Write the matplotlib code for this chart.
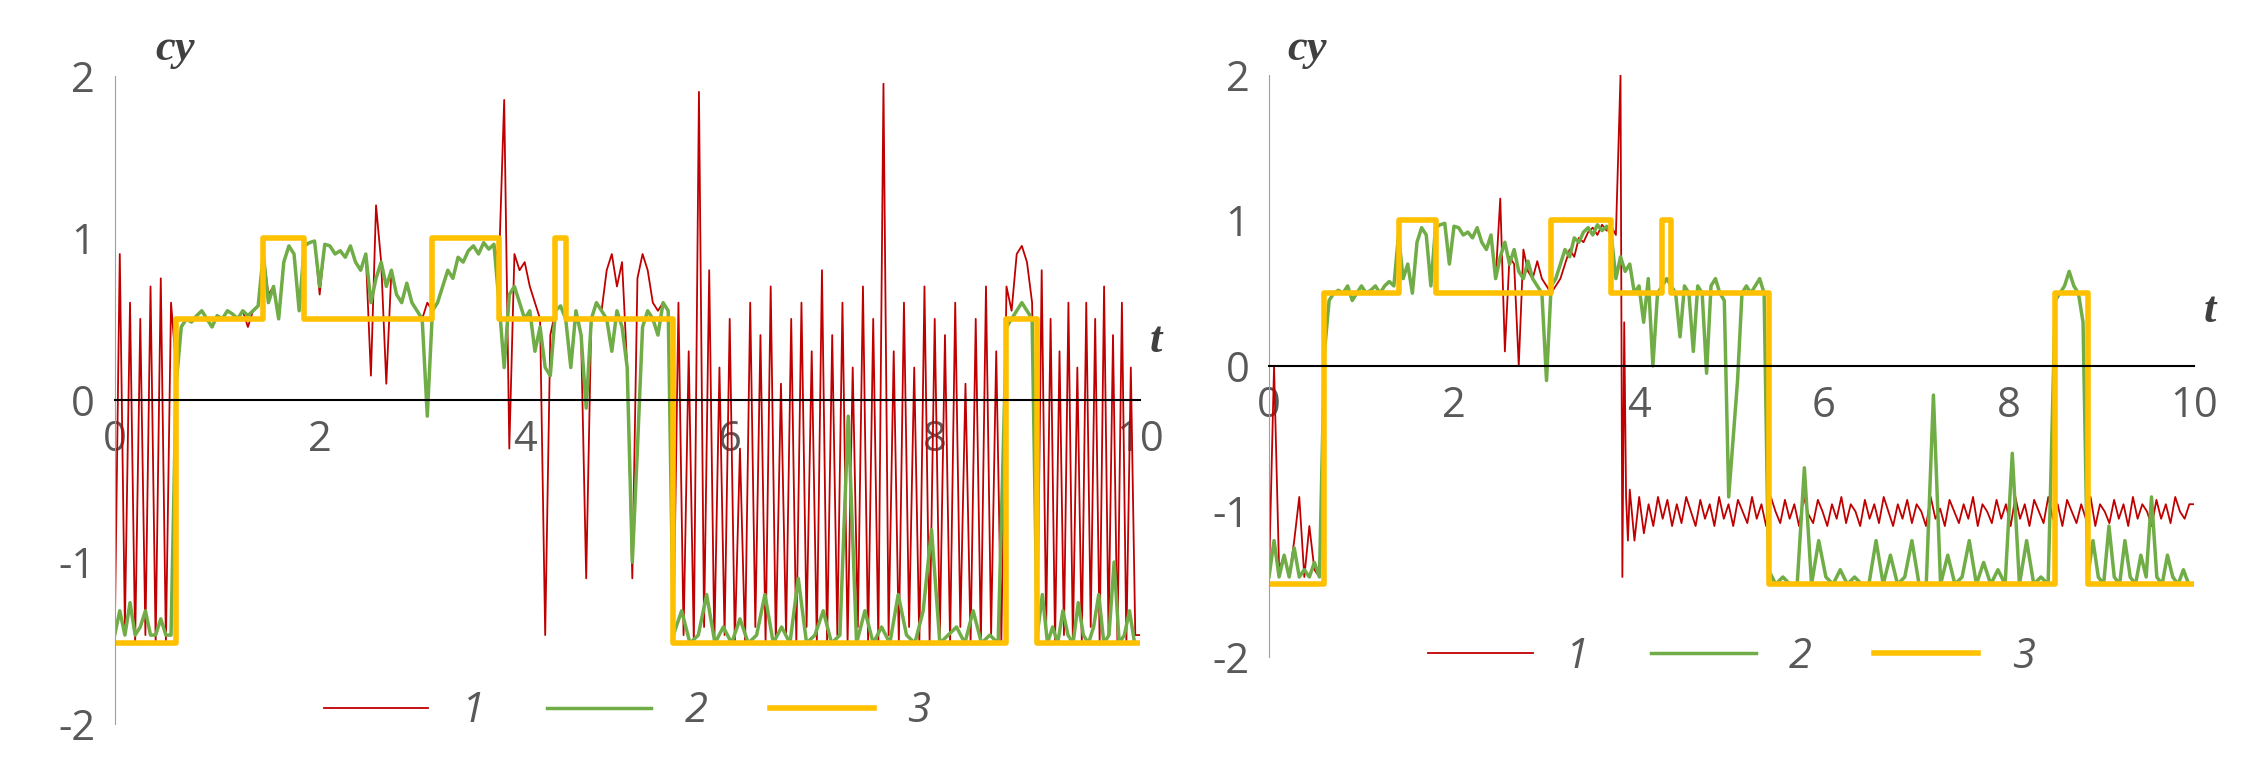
import numpy as np
import matplotlib
matplotlib.use('Agg')
import matplotlib.pyplot as plt

plt.rcParams['axes.unicode_minus'] = False

# ---------- left panel data ----------
# step signal (3): breakpoints and levels
left_step_t = [0, 0.6, 1.45, 1.85, 3.1, 3.75, 4.3, 4.4, 5.45, 8.7, 9.0, 10]
left_step_y = [-1.5, 0.5, 1.0, 0.5, 1.0, 0.5, 1.0, 0.5, -1.5, 0.5, -1.5, -1.5]

# series 2 (green), per segment
left_green_edges = [0, 0.6, 1.45, 1.85, 3.1, 3.75, 4.3, 5.45, 8.7, 9.0, 10]
left_green_vals = [
    [-1.45, -1.3, -1.45, -1.25, -1.45, -1.4, -1.3, -1.45, -1.45, -1.35, -1.45, -1.45],
    [0.1, 0.45, 0.5, 0.48, 0.52, 0.55, 0.5, 0.45, 0.52, 0.5, 0.55, 0.53, 0.5, 0.55, 0.52, 0.55, 0.58],
    [0.9, 0.6, 0.7, 0.5, 0.85, 0.95, 0.9, 0.55],
    [0.95, 0.97, 0.98, 0.7, 0.96, 0.95, 0.9, 0.92, 0.88, 0.95, 0.85, 0.8, 0.9, 0.6, 0.75, 0.85,
     0.7, 0.8, 0.65, 0.6, 0.72, 0.6, 0.55, 0.5, -0.1],
    [0.55, 0.6, 0.7, 0.8, 0.75, 0.88, 0.85, 0.92, 0.95, 0.9, 0.97, 0.93, 0.96],
    [0.6, 0.2, 0.65, 0.7, 0.6, 0.5, 0.55, 0.3, 0.45, 0.2, 0.15],
    [0.55, 0.58, 0.5, 0.2, 0.55, 0.4, -0.05, 0.5, 0.6, 0.55, 0.5, 0.3, 0.55, 0.45, 0.2, -1.0,
     -0.3, 0.45, 0.55, 0.5, 0.4, 0.6, 0.55],
    [-1.45, -1.3, -1.5, -1.45, -1.2, -1.5, -1.4, -1.5, -1.35, -1.5, -1.45, -1.2, -1.5, -1.4, -1.5,
     -1.1, -1.5, -1.45, -1.3, -1.5, -1.45, -0.1, -1.5, -1.3, -1.5, -1.4, -1.5, -1.2, -1.45, -1.5,
     -1.3, -0.8, -1.5, -1.45, -1.4, -1.5, -1.3, -1.5, -1.45, -1.5],
    [0.45, 0.5, 0.55, 0.6, 0.55, 0.5],
    [-1.45, -1.2, -1.5, -1.4, -1.5, -1.3, -1.45, -1.5, -1.25, -1.45, -1.5, -1.4, -1.2, -1.5,
     -1.45, -1.0, -1.5, -1.45, -1.3, -1.5],
]

# series 1 (red), per segment
left_red_edges = [0, 0.6, 1.45, 1.85, 3.1, 3.75, 4.3, 5.45, 8.7, 9.0, 10]
left_red_vals = [
    [-1.5, 0.9, -1.4, 0.6, -1.5, 0.5, -1.45, 0.7, -1.5, 0.75, -1.5, 0.6],
    [0.2, 0.45, 0.5, 0.48, 0.52, 0.55, 0.5, 0.45, 0.52, 0.5, 0.55, 0.53, 0.5, 0.55, 0.45, 0.55, 0.58],
    [0.9, 0.65, 0.7, 0.5, 0.85, 0.95, 0.9, 0.55],
    [0.95, 0.97, 0.98, 0.65, 0.96, 0.95, 0.9, 0.92, 0.88, 0.95, 0.85, 0.8, 0.9, 0.15, 1.2, 0.85,
     0.1, 0.8, 0.65, 0.6, 0.72, 0.6, 0.55, 0.5, 0.6],
    [0.55, 0.6, 0.7, 0.8, 0.75, 0.88, 0.85, 0.92, 0.95, 0.9, 0.97, 0.93, 0.96],
    [0.85, 1.85, -0.3, 0.9, 0.8, 0.85, 0.7, 0.6, 0.5, -1.45, 0.4],
    [0.55, 0.58, 0.5, 0.2, 0.55, 0.4, -1.1, 0.5, 0.6, 0.55, 0.8, 0.9, 0.7, 0.85, 0.2, -1.1, 0.75,
     0.9, 0.8, 0.6, 0.55, 0.6, 0.55],
    [-1.5, 0.6, -1.45, 0.3, -1.5, 1.9, -1.4, 0.8, -1.5, 0.2, -1.45, 0.5, -1.5, -0.3, -1.5, 0.6,
     -1.4, 0.4, -1.5, 0.7, -1.5, 0.1, -1.45, 0.5, -1.5, 0.6, -1.4, 0.3, -1.5, 0.8, -1.5, 0.4,
     -1.45, 0.6, -1.5, 0.2, -1.4, 0.7, -1.5, 0.5, -1.5, 1.95, -1.45, 0.3, -1.5, 0.6, -1.4, 0.2,
     -1.5, 0.7, -1.5, 0.5, -1.45, 0.4, -1.5, 0.6, -1.4, 0.1, -1.5, 0.5, -1.5, 0.7, -1.45, 0.3, -1.5],
    [0.7, 0.55, 0.9, 0.95, 0.85, 0.6],
    [-1.5, 0.8, -1.4, 0.5, -1.5, 0.3, -1.45, 0.6, -1.5, 0.2, -1.5, 0.6, -1.4, 0.5, -1.5, 0.7,
     -1.45, 0.4, -1.5, 0.6, -1.5, 0.2, -1.45],
]

# ---------- right panel data ----------
right_step_t = [0, 0.6, 1.4, 1.8, 3.05, 3.7, 4.25, 4.35, 5.4, 8.5, 8.85, 10]
right_step_y = [-1.5, 0.5, 1.0, 0.5, 1.0, 0.5, 1.0, 0.5, -1.5, 0.5, -1.5, -1.5]

right_green_edges = [0, 0.6, 1.4, 1.8, 3.05, 3.7, 4.3, 5.4, 8.5, 8.85, 10]
right_green_vals = [
    [-1.45, -1.2, -1.45, -1.3, -1.45, -1.25, -1.45, -1.4, -1.45, -1.35, -1.45],
    [0.1, 0.45, 0.5, 0.52, 0.5, 0.55, 0.45, 0.5, 0.55, 0.5, 0.52, 0.55, 0.5, 0.55, 0.58, 0.55],
    [0.9, 0.6, 0.7, 0.5, 0.85, 0.95, 0.9, 0.55],
    [0.95, 0.97, 0.98, 0.7, 0.96, 0.95, 0.9, 0.92, 0.88, 0.95, 0.85, 0.8, 0.9, 0.6, 0.75, 0.85,
     0.7, 0.8, 0.65, 0.6, 0.72, 0.6, 0.55, 0.5, -0.1],
    [0.55, 0.6, 0.7, 0.8, 0.75, 0.88, 0.85, 0.92, 0.95, 0.9, 0.97, 0.93, 0.96],
    [0.9, 0.6, 0.75, 0.65, 0.7, 0.5, 0.55, 0.3, 0.6, 0.0, 0.5, 0.55],
    [0.6, 0.55, 0.5, 0.2, 0.55, 0.5, 0.1, 0.55, 0.5, -0.05, 0.55, 0.6, 0.5, 0.45, -0.9, -0.5,
     -0.1, 0.5, 0.55, 0.5, 0.55, 0.6, 0.5],
    [-1.4, -1.5, -1.45, -1.5, -1.5, -0.7, -1.5, -1.2, -1.45, -1.5, -1.4, -1.5, -1.45, -1.5, -1.5,
     -1.2, -1.5, -1.3, -1.5, -1.45, -1.2, -1.5, -1.5, -0.2, -1.5, -1.3, -1.5, -1.45, -1.2, -1.5,
     -1.35, -1.5, -1.4, -1.5, -0.6, -1.5, -1.2, -1.5, -1.45, -1.5],
    [0.45, 0.5, 0.55, 0.65, 0.55, 0.5, 0.3],
    [-1.45, -1.2, -1.45, -1.5, -1.1, -1.45, -1.5, -1.2, -1.45, -1.5, -1.3, -1.45, -0.9, -1.45,
     -1.5, -1.3, -1.45, -1.5, -1.4, -1.5],
]

right_red_edges = [0, 0.6, 3.8, 3.9, 10]
right_red_vals = [
    [-1.45, 0.0, -1.4, -1.3, -1.45, -1.2, -0.9, -1.45, -1.1, -1.4, -1.45],
    [0.1, 0.45, 0.5, 0.52, 0.5, 0.55, 0.45, 0.5, 0.55, 0.5, 0.52, 0.55, 0.5, 0.55, 0.58, 0.55,
     0.9, 0.6, 0.7, 0.5, 0.85, 0.95, 0.9, 0.55, 0.95, 0.97, 0.98, 0.7, 0.96, 0.95, 0.9, 0.92,
     0.88, 0.95, 0.85, 0.8, 0.9, 0.6, 1.15, 0.1, 0.75, 0.7, 0.0, 0.8, 0.65, 0.6, 0.72, 0.6, 0.55,
     0.5, 0.55, 0.6, 0.7, 0.8, 0.75, 0.88, 0.85, 0.92, 0.95, 0.9, 0.97, 0.93, 0.96, 0.9],
    [2.0, -1.45, 0.3, -0.9, -1.2],
    [-0.85, -1.2, -0.9, -1.15, -0.95, -1.1, -0.9, -1.05, -0.92, -1.1, -0.95, -1.08, -0.9, -1.0,
     -1.1, -0.92, -1.05, -0.95, -1.1, -0.9, -1.05, -0.95, -1.1, -0.92, -1.0, -1.08, -0.9, -1.05,
     -0.95, -1.1, -0.9, -1.0, -1.08, -0.92, -1.05, -0.95, -1.1, -0.9, -1.02, -1.08, -0.92, -1.0,
     -1.1, -0.95, -1.05, -0.9, -1.08, -0.95, -1.0, -1.1, -0.92, -1.05, -0.95, -1.08, -0.9, -1.0,
     -1.1, -0.95, -1.05, -0.92, -1.08, -0.95, -1.0, -1.1, -0.9, -1.05, -0.98, -1.1, -0.92, -1.0,
     -1.08, -0.95, -1.05, -0.9, -1.1, -0.95, -1.0, -1.08, -0.92, -1.05, -0.95, -1.1, -0.9, -1.05,
     -0.95, -1.1, -0.92, -1.0, -1.08, -0.9, -1.05, -0.95, -1.1, -0.92, -1.0, -1.08, -0.95, -1.05,
     -0.9, -1.1, -0.95, -1.0, -1.08, -0.92, -1.05, -0.95, -1.1, -0.9, -1.05, -0.95, -1.0, -1.1,
     -0.92, -1.05, -0.95, -1.08, -0.9, -1.0, -1.05, -0.95],
]

RED = '#c00000'
GREEN = '#70ad47'
YELLOW = '#ffc000'
GRAY = '#595959'


def join_segments(edges, vals):
    ts, ys = [], []
    for i, v in enumerate(vals):
        t = np.linspace(edges[i], edges[i + 1], len(v), endpoint=False)
        ts.extend(t)
        ys.extend(v)
    ts.append(edges[-1])
    ys.append(vals[-1][-1])
    return np.array(ts), np.array(ys)


def draw_panel(ax, red, green, step_t, step_y, legend_y, cy_x):
    t1, y1 = join_segments(*red)
    t2, y2 = join_segments(*green)
    ax.plot(t1, y1, color=RED, lw=1.3, label='1')
    ax.plot(t2, y2, color=GREEN, lw=2.5, label='2')
    ax.plot(step_t, step_y, color=YELLOW, lw=4, drawstyle='steps-post', label='3')
    ax.set_xlim(0, 10)
    ax.set_ylim(-2, 2)
    ax.set_xticks([0, 2, 4, 6, 8, 10])
    ax.set_yticks([-2, -1, 0, 1, 2])
    ax.spines['top'].set_visible(False)
    ax.spines['right'].set_visible(False)
    ax.spines['bottom'].set_position(('data', 0))
    ax.spines['bottom'].set_color('black')
    ax.spines['bottom'].set_linewidth(1.5)
    ax.spines['left'].set_color('#a0a0a0')
    ax.tick_params(length=0, labelsize=30, labelcolor=GRAY, pad=14)
    for lab in ax.get_xticklabels() + ax.get_yticklabels():
        lab.set_fontfamily('Open Sans')
    ax.text(cy_x, 1.01, 'cy', transform=ax.transAxes, family='Liberation Serif',
            style='italic', weight='bold', fontsize=32, color='#404040', va='bottom', ha='left')
    ax.text(1.01, 0.56, 't', transform=ax.transAxes, family='Liberation Serif',
            style='italic', weight='bold', fontsize=32, color='#404040', va='bottom', ha='left')
    leg = ax.legend(loc='center', bbox_to_anchor=(0.5, legend_y), ncol=3, frameon=False,
                    handlelength=2.5, columnspacing=1.5,
                    prop={'family': 'Open Sans', 'style': 'italic', 'size': 30})
    for txt in leg.get_texts():
        txt.set_color(GRAY)


fig = plt.figure(figsize=(22.48, 7.64), dpi=100)
ax1 = fig.add_axes([0.051, 0.052, 0.456, 0.849])
ax2 = fig.add_axes([0.5645, 0.14, 0.4115, 0.762])

draw_panel(ax1, (left_red_edges, left_red_vals), (left_green_edges, left_green_vals),
           left_step_t, left_step_y, 0.02, 0.04)
draw_panel(ax2, (right_red_edges, right_red_vals), (right_green_edges, right_green_vals),
           right_step_t, right_step_y, 0.0, 0.02)

fig.savefig('out.png', dpi=100)
